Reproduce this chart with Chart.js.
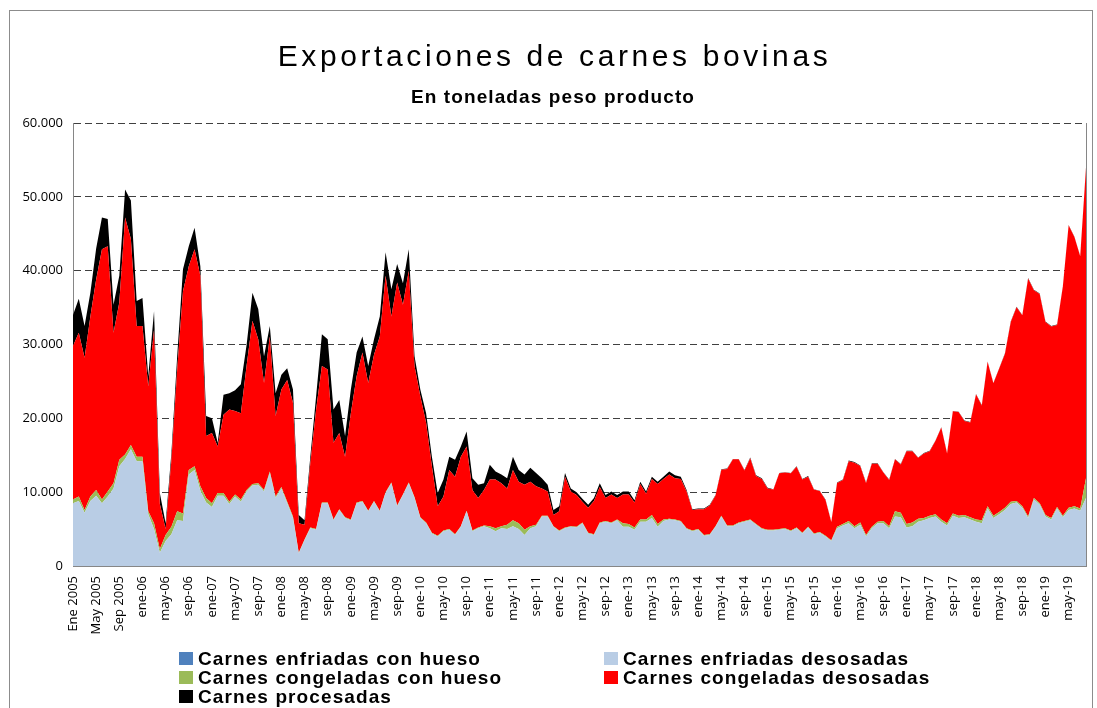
<!DOCTYPE html>
<html>
<head>
<meta charset="utf-8">
<script src="https://cdn.jsdelivr.net/npm/chart.js@4.4.1/dist/chart.umd.min.js"></script>
<style>
  body { margin: 0; background: #fff; }
  #wrap { position: relative; width: 1097px; height: 708px; overflow: hidden; font-family: "Liberation Sans", Arial, sans-serif; color: #000; }
  #frame { position: absolute; left: 9px; top: 10px; width: 1084px; height: 760px; border: 1px solid #8c8c8c; box-sizing: border-box; }
  #title { position: absolute; left: 0; width: 1109px; top: 41px; line-height: 30px; text-align: center; font-size: 30px; letter-spacing: 3.6px; }
  #subtitle { position: absolute; left: 0; width: 1106px; top: 87px; line-height: 19px; text-align: center; font-size: 19px; font-weight: bold; letter-spacing: 1.1px; }
  #chart { position: absolute; left: 0; top: 0; }
  .leg { position: absolute; font-size: 19px; line-height: 19px; font-weight: bold; letter-spacing: 1.1px; white-space: nowrap; }
  .leg i { position: absolute; left: -19px; top: 3px; width: 14px; height: 13px; }
</style>
</head>
<body>
<div id="wrap">
  <div id="frame"></div>
  <canvas id="chart" width="1097" height="708"></canvas>
  <div id="title">Exportaciones de carnes bovinas</div>
  <div id="subtitle">En toneladas peso producto</div>
  <div id="legend"></div>
</div>
<script>
// toneladas peso producto, ene 2005 - ago 2019
let enfriadasConHueso = [
    0, 0, 0, 0, 0, 0, 0, 0, 0, 0, 0, 0, 0, 0, 0, 0, 0, 0, 0, 0, 0, 0,
    0, 0, 0, 0, 0, 0, 0, 0, 0, 0, 0, 0, 0, 0, 0, 0, 0, 0, 0, 0, 0, 0,
    0, 0, 0, 0, 0, 0, 0, 0, 0, 0, 0, 0, 0, 0, 0, 0, 0, 0, 0, 0, 0, 0,
    0, 0, 0, 0, 0, 0, 0, 0, 0, 0, 0, 0, 0, 0, 0, 0, 0, 0, 0, 0, 0, 0,
    0, 0, 0, 0, 0, 0, 0, 0, 0, 0, 0, 0, 0, 0, 0, 0, 0, 0, 0, 0, 0, 0,
    0, 0, 0, 0, 0, 0, 0, 0, 0, 0, 0, 0, 0, 0, 0, 0, 0, 0, 0, 0, 0, 0,
    0, 0, 0, 0, 0, 0, 0, 0, 0, 0, 0, 0, 0, 0, 0, 0, 0, 0, 0, 0, 0, 0,
    0, 0, 0, 0, 0, 0, 0, 0, 0, 0, 0, 0, 0, 0, 0, 0, 0, 0, 0, 0, 0, 0
]

let enfriadasDesosadas = [
    8500, 8800, 7200, 8800, 9500, 8500, 9400, 10500, 13500, 14500,
    15800, 14200, 14200, 7000, 5000, 1800, 3400, 4300, 6200, 6100,
    12400, 13000, 10200, 8600, 8000, 9500, 9500, 8400, 9400, 8700,
    10100, 10900, 11000, 10100, 12600, 9200, 10500, 8500, 6500, 1700,
    3500, 5100, 4900, 8500, 8500, 6200, 7600, 6500, 6200, 8500,
    8700, 7400, 8700, 7400, 9900, 11200, 8100, 9600, 11200, 9200,
    6500, 5800, 4400, 4000, 4700, 4900, 4200, 5300, 7400, 4700,
    5100, 5400, 5100, 4700, 5100, 5000, 5400, 5000, 4200, 5100,
    5400, 6700, 6700, 5300, 4700, 5100, 5300, 5200, 5800, 4400,
    4200, 5800, 6000, 5800, 6200, 5300, 5300, 4900, 6000,
    6000, 6500, 5300, 6100, 6300, 6200, 6000, 5000, 4700, 4900,
    4100, 4200, 5300, 6700, 5400, 5400, 5800, 6000, 6200, 5600,
    5000, 4800, 4800, 4900, 5000, 4700, 5100, 4400, 5200, 4300,
    4500, 4000, 3400, 5100, 5500, 5800, 5100, 5600, 4000, 5100,
    5800, 5800, 5100, 6700, 6600, 5200, 5400, 6000, 6200, 6500,
    6700, 6000, 5500, 6800, 6500, 6600, 6300, 6000, 5800, 7800,
    6500, 7000, 7600, 8400, 8600, 7900, 6500, 9000, 8300, 6700,
    6300, 7800, 6600, 7600, 7800, 7500, 9200
]

let congeladasConHueso = [
    500, 600, 400, 600, 800, 500, 700, 700, 900, 600,
    600, 600, 600, 400, 800, 500, 800, 1000, 1200, 1000,
    600, 500, 600, 600, 500, 400, 400, 300, 300, 300,
    200, 200, 200, 200, 200, 200, 200, 200, 200, 100,
    100, 100, 100, 100, 100, 100, 100, 100, 100, 100,
    100, 100, 100, 100, 100, 100, 100, 100, 100, 100,
    100, 100, 100, 100, 100, 100, 100, 100, 100, 100,
    100, 100, 300, 400, 300, 600, 800, 800, 700, 300,
    200, 100, 100, 100, 100, 100, 100, 100, 100, 100,
    100, 100, 100, 100, 100, 500, 400, 300, 300,
    300, 400, 400, 200, 100, 100, 100, 100, 100, 100,
    100, 100, 100, 100, 100, 100, 100, 100, 100, 100,
    100, 100, 100, 100, 100, 100, 100, 100, 100, 100,
    100, 100, 100, 200, 200, 300, 300, 300, 200, 200,
    200, 300, 300, 700, 600, 500, 500, 400, 300, 300,
    300, 300, 300, 300, 300, 300, 300, 300, 400, 300,
    300, 300, 300, 300, 200, 200, 200, 200, 200, 200,
    200, 200, 200, 300, 300, 300, 2700
]

let congeladasDesosadas = [
    20800, 22200, 20600, 24400, 28500, 33900, 33200, 20400, 21300, 32100,
    27900, 17700, 17700, 16900, 26200, 6100, 800, 9100, 19200, 30100,
    27600, 29400, 28500, 8400, 9500, 6300, 10600, 12500, 11300, 11700,
    16900, 22100, 19500, 14500, 18300, 10900, 13200, 16500, 15400, 4000,
    2000, 8700, 16200, 18500, 18000, 10400, 10300, 8200, 14400, 17100,
    20100, 17300, 19800, 23600, 29300, 22500, 30200, 25700, 28700, 17800,
    16400, 13500, 9000, 4000, 4600, 8000, 7800, 9400, 8700, 5500,
    4000, 4800, 6300, 6600, 5800, 4900, 6800, 5600, 6100, 6000,
    5200, 3700, 3300, 1500, 2600, 6900, 4700, 4300, 2800, 3400,
    4500, 4800, 3100, 3800, 2900, 3900, 4000, 3400, 4800,
    3500, 4900, 5400, 5500, 6000, 5600, 5700, 5000, 2800, 2700,
    3500, 3900, 4150, 6250, 7650, 8950, 8550, 6850, 8300, 6500,
    6700, 5600, 5450, 7550, 7550, 7750, 8250, 7200, 6800, 5950,
    5550, 4850, 2450, 5950, 5950, 8100, 8600, 7650, 7050, 8550,
    7850, 6550, 6250, 7050, 6550, 9850, 9650, 8250, 8750, 8750,
    9950, 12450, 9450, 13850, 14050, 12750, 12850, 16950, 15550, 19550,
    17950, 19450, 20850, 24350, 26250, 25850, 32250, 28150, 28350, 26150,
    25950, 24650, 31050, 38250, 36450, 34150, 42050
]

let procesadas = [
    4200, 4600, 4300, 3200, 4200, 4300, 3700, 3800, 3600, 3800,
    5200, 3400, 3800, 1400, 2500, 1500, 800, 900, 1800, 3000,
    2700, 2900, 1300, 2700, 2000, 500, 2700, 2200, 2800, 3900,
    2800, 3800, 4100, 3600, 1400, 3100, 2000, 1600, 1800, 1100,
    600, 900, 1800, 4300, 4100, 4500, 4500, 2800, 3200, 3200,
    2200, 2300, 2100, 2700, 3200, 3700, 2500, 2900, 2900, 1300,
    900, 1300, 1300, 1800, 2300, 1800, 2300, 1400, 2000, 1600,
    1800, 900, 2000, 1100, 1200, 1400, 1800, 1600, 1400, 1900,
    1800, 1400, 900, 700, 700, 500, 400, 400, 400, 400,
    400, 500, 400, 400, 400, 400, 400, 300, 300,
    300, 300, 300, 300, 400, 400, 300, 200, 100, 100,
    100, 100, 50, 50, 50, 50, 50, 50, 100, 100,
    100, 100, 50, 50, 50, 50, 50, 100, 100, 50,
    50, 50, 50, 50, 50, 100, 100, 50, 50, 50,
    50, 50, 50, 50, 50, 50, 50, 50, 50, 50,
    50, 50, 50, 50, 50, 50, 50, 50, 50, 50,
    50, 50, 50, 50, 50, 50, 50, 50, 50, 50,
    50, 50, 50, 50, 50, 50, 50
]

// one label every 4 months
let tickLabels = [
    "Ene 2005", "May 2005", "Sep 2005",
    "ene-06", "may-06", "sep-06", "ene-07", "may-07", "sep-07",
    "ene-08", "may-08", "sep-08", "ene-09", "may-09", "sep-09",
    "ene-10", "may-10", "sep-10", "ene-11", "may-11", "sep-11",
    "ene-12", "may-12", "sep-12", "ene-13", "may-13", "sep-13",
    "ene-14", "may-14", "sep-14", "ene-15", "may-15", "sep-15",
    "ene-16", "may-16", "sep-16", "ene-17", "may-17", "sep-17",
    "ene-18", "may-18", "sep-18", "ene-19", "may-19"
]

let monthNames = ["ene", "feb", "mar", "abr", "may", "jun", "jul", "ago", "sep", "oct", "nov", "dic"]
let categories = []
for (let k = 0; k < enfriadasDesosadas.length; k++) {
    let yy = 5 + Math.floor(k / 12)
    categories.push(monthNames[k % 12] + "-" + (yy < 10 ? "0" + yy : yy))
}

let series = [
    { name: "Carnes enfriadas con hueso", data: enfriadasConHueso, color: "#4F81BD" },
    { name: "Carnes enfriadas desosadas", data: enfriadasDesosadas, color: "#B9CDE5" },
    { name: "Carnes congeladas con hueso", data: congeladasConHueso, color: "#9BBB59" },
    { name: "Carnes congeladas desosadas", data: congeladasDesosadas, color: "#FF0000" },
    { name: "Carnes procesadas", data: procesadas, color: "#000000" }
]

function fmtMiles(v) {
    return String(v).replace(/\B(?=(\d{3})+(?!\d))/g, ".")
}

// right edge of the plot box
const plotFrame = {
    id: "plotFrame",
    afterDraw(chart) {
        let a = chart.chartArea
        let ctx = chart.ctx
        ctx.save()
        ctx.strokeStyle = "#868686"
        ctx.lineWidth = 1
        ctx.beginPath()
        ctx.moveTo(Math.round(a.right) + 0.5, a.top)
        ctx.lineTo(Math.round(a.right) + 0.5, a.bottom)
        ctx.stroke()
        ctx.restore()
    }
}

Chart.defaults.font.family = "'Open Sans', sans-serif"

new Chart(document.getElementById("chart"), {
    type: "line",
    data: {
        labels: categories,
        datasets: series.map((s, i) => ({
            label: s.name,
            data: s.data,
            backgroundColor: s.color,
            borderColor: s.color,
            borderWidth: 0,
            pointRadius: 0,
            tension: 0,
            fill: i === 0 ? "origin" : "-1"
        }))
    },
    options: {
        responsive: false,
        animation: false,
        layout: { padding: { top: 123, right: 11, left: 0, bottom: 0 } },
        plugins: {
            legend: { display: false },
            tooltip: { mode: "index", intersect: false }
        },
        scales: {
            x: {
                offset: false,
                grid: { display: false, drawTicks: false },
                border: { display: true, color: "#868686" },
                ticks: {
                    autoSkip: false,
                    maxRotation: 90,
                    minRotation: 90,
                    padding: 10,
                    color: "#000",
                    font: { size: 13 },
                    callback: (v, i) => i % 4 === 0 ? tickLabels[i / 4] : null
                },
                afterFit: s => { s.height = 142 }
            },
            y: {
                stacked: true,
                min: 0,
                max: 60000,
                ticks: {
                    stepSize: 10000,
                    padding: 10,
                    color: "#000",
                    font: { size: 13 },
                    callback: v => fmtMiles(v)
                },
                grid: {
                    drawTicks: false,
                    lineWidth: 1,
                    color: c => c.tick && c.tick.value === 0 ? "rgba(0,0,0,0)" : "#404040"
                },
                border: { display: true, color: "#868686", dash: [7, 4] },
                afterFit: s => { s.width = 73 }
            }
        }
    },
    plugins: [plotFrame]
})

// legend in two columns like the original
let legendPos = [
    { left: 198, top: 649 }, { left: 623, top: 649 },
    { left: 198, top: 668 }, { left: 623, top: 668 },
    { left: 198, top: 687 }
]
let order = [0, 1, 2, 3, 4]
let legend = document.getElementById("legend")
order.forEach((si, k) => {
    let el = document.createElement("div")
    el.className = "leg"
    el.style.left = legendPos[k].left + "px"
    el.style.top = legendPos[k].top + "px"
    let box = document.createElement("i")
    box.style.background = series[si].color
    el.appendChild(box)
    el.appendChild(document.createTextNode(series[si].name))
    legend.appendChild(el)
})
</script>
</body>
</html>
